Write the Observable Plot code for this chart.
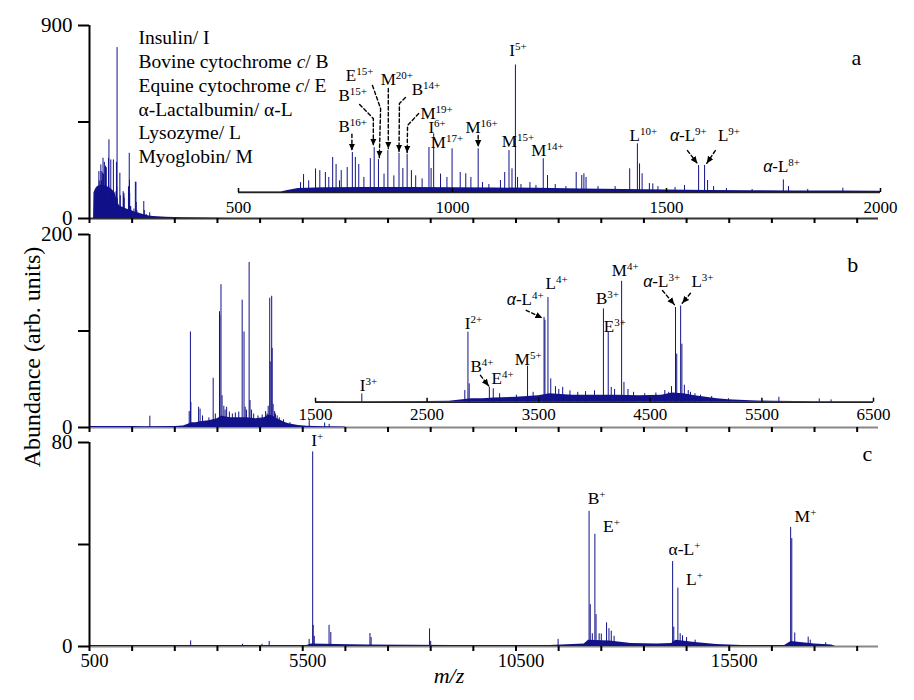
<!DOCTYPE html>
<html><head><meta charset="utf-8">
<script src="https://cdn.jsdelivr.net/npm/d3@7"></script>
<script src="https://cdn.jsdelivr.net/npm/@observablehq/plot@0.6"></script>
<style>
html,body{margin:0;padding:0;background:#fff;}
#chart{position:relative;width:914px;height:700px;background:#fff;font-family:"Liberation Serif","Times New Roman",serif;color:#000;overflow:hidden;}
#chart svg{position:absolute;left:0;top:0;}
.lab{position:absolute;white-space:nowrap;text-align:center;}
</style></head><body>
<div id="chart">
 <div class="lab" style="left:-168px;top:345px;width:400px;height:24px;line-height:24px;font-size:24px;transform:rotate(-90deg);">Abundance (arb. units)</div>
 <div class="lab" style="left:349px;top:665px;width:200px;height:22px;line-height:22px;font-size:22px;font-style:italic;">m/z</div>
</div>
<script>
// ---------------- data ----------------
const mainTicks = [500,1500,2500,3500,4500,5500,6500,7500,8500,9500,10500,11500,12500,13500,14500,15500,16500,17500,18500];
const xLabelsC = [500,5500,10500,15500];
const yTicksA = [0,450,900], yLabelsA = [0,900];
const yTicksB = [0,100,200], yLabelsB = [0,200];
const yTicksC = [0,40,80],   yLabelsC = [0,80];
const insetTicksA = [500,1000,1500,2000];
const insetTicksB = [1500,2500,3500,4500,5500,6500];

const legendLines = ["Insulin/ I","Bovine cytochrome _c_/ B","Equine cytochrome _c_/ E","α-Lactalbumin/ α-L","Lysozyme/ L","Myoglobin/ M"];

// panel a spectrum: [m/z, abundance]
const peaksA = [[645,62],[652,112],[664,73],[680,147],[690,137],[703,125],[711,94],[720,219],[728,175],[736,73],[740,137],[754,156],[766,250],[773,219],[781,175],[793,94],[808,212],[817,281],[827,206],[840,115],[849,262],[863,104],[875,244],[884,150],[894,237],[904,137],[914,104],[929,85],[945,281],[950,150],[956,367],[972,115],[987,94],[999,273],[1018,125],[1031,117],[1043,94],[1060,273],[1070,62],[1085,50],[1112,75],[1122,125],[1132,262],[1139,148],[1147,797],[1152,94],[1160,50],[1181,62],[1195,44],[1212,211],[1222,106],[1240,50],[1265,37],[1289,125],[1302,106],[1307,117],[1312,94],[1340,37],[1380,37],[1414,148],[1432,304],[1437,179],[1443,117],[1460,56],[1468,54],[1480,37],[1520,31],[1542,44],[1575,169],[1589,169],[1596,75],[1610,37],[1640,25],[1700,19],[1773,79],[1785,37],[1830,19],[1912,27]];
const envelopeA = [[595,0],[605,120],[650,140],[700,150],[800,155],[900,150],[1000,140],[1100,120],[1150,80],[1200,60],[1300,50],[1400,42],[1500,35],[1600,28],[1700,22],[1800,16],[1900,12],[2000,9],[2300,6],[2700,4],[3100,2.5],[3500,1.5],[3900,0]];
const baselineA = [[500,3],[600,3],[615,12],[640,25],[700,30],[800,32],[900,32],[1000,30],[1100,28],[1200,26],[1300,22],[1400,19],[1500,16],[1600,13],[1700,11],[1800,10],[1900,9],[2000,8]];
const labelsA = [
 {t:"B^16+",mz:767,v:377},{t:"B^15+",mz:767,v:575},{t:"E^15+",mz:783,v:700},{t:"M^20+",mz:870,v:669},
 {t:"B^14+",mz:938,v:612},{t:"M^19+",mz:963,v:462},{t:"I^6+",mz:964,v:375},{t:"M^17+",mz:987,v:281},
 {t:"M^16+",mz:1068,v:369},{t:"I^5+",mz:1153,v:856},{t:"M^15+",mz:1153,v:283},{t:"M^14+",mz:1222,v:231},
 {t:"L^10+",mz:1446,v:325},{t:"*α-L^9+",mz:1551,v:325},{t:"L^9+",mz:1646,v:325},{t:"*α-L^8+",mz:1769,v:127}];
const arrowsA = [
 ["B16",[[765,365],[765,262]]],["B15",[[783,550],[815,462],[815,293]]],["E15",[[813,669],[832,525],[829,218]]],
 ["M20",[[850,650],[850,274]]],["B14",[[890,594],[876,556],[875,256]]],["M19",[[921,494],[895,419],[894,249]]],
 ["M16",[[1060,356],[1060,285]]],["aL9",[[1549,262],[1572,182]]],["L9",[[1614,262],[1594,182]]]];

// panel b spectrum
const peaksB = [[1915,11.7],[2838,16.5],[2866,99],[2877,26],[3058,21],[3093,19],[3150,12],[3300,10],[3400,51],[3450,14],[3548,120],[3556,116],[3583,148],[3608,33],[3650,22],[3680,18],[3715,21],[3780,16],[3850,14],[3920,15],[4000,16],[4080,132],[4123,99],[4150,21],[4180,18],[4243,171],[4264,28],[4300,18],[4350,14],[4450,12],[4550,13],[4630,16.5],[4665,14],[4690,22],[4726,134],[4737,68],[4772,136],[4783,82],[4805,24],[4840,16.5],[4860,14],[4900,12],[4950,10],[5050,8],[5200,5],[5652,7],[6014,4.7],[6120,3.3]];
const baselineB = [[500,1],[1500,1],[1800,0.8],[2500,1],[2700,1.5],[2800,3],[2900,5],[3000,5],[3100,6],[3300,7],[3500,9],[3600,12],[3700,11],[3800,10],[4000,10],[4200,10],[4400,9],[4600,10],[4700,13],[4800,12],[4900,9],[5000,7],[5100,5],[5200,3.5],[5400,2],[5600,1.2],[6000,0.8],[6500,0.6]];
const labelsB = [
 {t:"I^3+",mz:1975,v:16.5},{t:"I^2+",mz:2916,v:104},{t:"B^4+",mz:2992,v:42.4},{t:"E^4+",mz:3176,v:26.4},
 {t:"M^5+",mz:3406,v:52},{t:"*α-L^4+",mz:3379,v:137},{t:"L^4+",mz:3661,v:160},{t:"B^3+",mz:4117,v:139},
 {t:"E^3+",mz:4182,v:99},{t:"M^4+",mz:4275,v:178},{t:"*α-L^3+",mz:4602,v:163.6},{t:"L^3+",mz:4968,v:163.6}];
const arrowsB = [
 ["B4",[[2978,38],[3052,23]]],["aL4",[[3388,130],[3533,119]]],["aL3",[[4609,158],[4716,138]]],["L3",[[4860,154],[4786,140]]]];

// panel c spectrum
const peaksC = [[2872,2.2],[4087,0.9],[4545,0.9],[4713,2],[5650,2.8],[5733,76.3],[5745,8.3],[5770,4],[6117,8.3],[6158,5.5],[7076,5.1],[7103,3.5],[8473,6.9],[8500,2],[11488,2.8],[12214,53],[12241,16.4],[12290,5],[12350,44],[12377,12.5],[12450,5],[12500,4.9],[12624,9.3],[12680,7],[12734,6],[12800,4],[14173,33.3],[14200,7.6],[14296,22.9],[14350,5],[14405,4.2],[14500,3.5],[14700,2.5],[16940,46.7],[16967,42.3],[17036,5.3],[17351,3.7],[17400,2.5],[17762,1.5]];
const baselineC = [[500,0.4],[5600,0.4],[5700,1],[6300,0.8],[7000,0.6],[9000,0.4],[11300,0.4],[12100,1],[12200,2.5],[12700,2.2],[13200,1.2],[13800,1],[14150,1.2],[14250,2.5],[14700,1.6],[15200,0.8],[15800,0.4],[16800,0.4],[16950,2],[17500,1],[17900,0.6],[18000,0]];
const labelsC = [{t:"I^+",mz:5839,v:78.6},{t:"B^+",mz:12390,v:55.9},{t:"E^+",mz:12739,v:44.8},{t:"α-L^+",mz:14451,v:35.7},{t:"L^+",mz:14686,v:24.3},{t:"M^+",mz:17288,v:49}];

const panelLetters = {a:{mz:18483,v:718}, b:{mz:18399,v:161}, c:{mz:18741,v:72.8}};

// ---------------- drawing ----------------
const W = 914, H = 700, NAVY = "#12128a";
const X = d => d[0], V = d => d[1];
const flat = arr => arr.flatMap(([id, pts]) => pts.map(([mz, v]) => ({id, mz, v})));
const chart = document.getElementById("chart");
const ns = "http://www.w3.org/2000/svg";

function rich(svg) {
  svg.querySelectorAll("text").forEach(t => {
    const s = t.textContent;
    if (!/[\^_*]/.test(s)) return;
    const parts = s.split(/(\*α|_[^_]+_|\^.*$)/).filter(p => p);
    t.textContent = "";
    for (const p of parts) {
      const ts = document.createElementNS(ns, "tspan");
      if (p === "*α") { ts.textContent = "α"; ts.setAttribute("font-style","italic"); ts.setAttribute("font-family","Liberation Sans"); ts.setAttribute("font-size","16px"); }
      else if (p[0] === "_") { ts.textContent = p.slice(1,-1); ts.setAttribute("font-style","italic"); }
      else if (p[0] === "^") { ts.textContent = p.slice(1); ts.setAttribute("font-size","11px"); ts.setAttribute("dy","-6"); }
      else ts.textContent = p;
      t.appendChild(ts);
    }
  });
}
let mid = 0;
function finish(svg) {
  const id = "tri" + (mid++);
  const defs = document.createElementNS(ns, "defs");
  const m = document.createElementNS(ns, "marker");
  m.setAttribute("id", id); m.setAttribute("viewBox","0 0 10 10"); m.setAttribute("refX","10"); m.setAttribute("refY","5");
  m.setAttribute("markerUnits","userSpaceOnUse"); m.setAttribute("markerWidth","7"); m.setAttribute("markerHeight","7"); m.setAttribute("orient","auto");
  const p = document.createElementNS(ns, "path"); p.setAttribute("d","M0,0.5L10,5L0,9.5Z"); p.setAttribute("fill","#000"); p.setAttribute("stroke","none");
  m.appendChild(p); defs.appendChild(m); svg.insertBefore(defs, svg.firstChild);
  svg.querySelectorAll('g[stroke-dasharray] path, path[stroke-dasharray]').forEach(q => q.setAttribute("marker-end", `url(#${id})`));
  rich(svg);
  chart.appendChild(svg);
}
function mk(opts) {
  return Plot.plot({width: W, height: H,
    style: {fontFamily: "Liberation Serif", fontSize: "19px", color: "#000", background: "transparent", overflow: "visible"},
    ...opts});
}
const mainX = {domain: [500, 19000], axis: null};
const yAxis = (ticks, labels) => Plot.axisY({ticks, tickSize: 11, tickPadding: 6, strokeWidth: 2, fontSize: 21, label: null,
  tickFormat: d => labels.includes(d) ? String(d) : ""});
const letter = (k) => Plot.text([k], {x: panelLetters[k].mz, y: panelLetters[k].v, text: d => d, lineAnchor: "bottom", fontSize: 22});
const arrows = (data) => Plot.line(flat(data), {x: "mz", y: "v", z: "id", stroke: "#000", strokeWidth: 1.4, strokeDasharray: "3.5,2.5"});

// Panel a main
finish(mk({
  marginLeft: 89, marginRight: W - 878, marginTop: 25, marginBottom: H - 218,
  x: mainX, y: {domain: [0, 900], axis: null},
  marks: [
    Plot.ruleY([0], {stroke: "#333", strokeWidth: 2}),
    Plot.axisX({ticks: mainTicks, tickSize: 5, strokeWidth: 2, tickFormat: () => "", label: null}),
    Plot.areaY(envelopeA, {x: X, y: V, fill: NAVY}),
    Plot.ruleX(peaksA, {x: X, y1: 0, y2: V, stroke: NAVY, strokeWidth: 1}),
    Plot.ruleX([500], {y1: 0, y2: 900, stroke: "#000", strokeWidth: 2}),
    yAxis(yTicksA, yLabelsA),
    Plot.text(legendLines, {x: 1649, y: (d, i) => 815 - i * 111.6, text: d => d, textAnchor: "start", lineAnchor: "bottom", fontSize: 19.5}),
    letter("a")
  ]
}));
// Panel a inset
finish(mk({
  marginLeft: 238, marginRight: W - 880, marginTop: 48, marginBottom: H - 192,
  x: {domain: [500, 2000], axis: null}, y: {domain: [0, 900], axis: null},
  marks: [
    Plot.areaY(baselineA, {x: X, y: V, fill: NAVY}),
    Plot.ruleX(peaksA, {x: X, y1: 0, y2: V, stroke: NAVY, strokeWidth: 1}),
    Plot.ruleY([0], {stroke: "#222", strokeWidth: 1.5}),
    Plot.ruleX(insetTicksA, {x: d => d, y1: 0, y2: 25, stroke: "#000", strokeWidth: 1.5}),
    Plot.axisX({ticks: insetTicksA, tickSize: 0, tickPadding: 8, fontSize: 17, tickFormat: String, label: null}),
    arrows(arrowsA),
    Plot.text(labelsA, {x: "mz", y: "v", text: "t", lineAnchor: "bottom", fontSize: 17})
  ]
}));
// Panel b main
finish(mk({
  marginLeft: 89, marginRight: W - 878, marginTop: 234, marginBottom: H - 427,
  x: mainX, y: {domain: [0, 200], axis: null},
  marks: [
    Plot.ruleY([0], {stroke: "#888", strokeWidth: 2}),
    Plot.axisX({ticks: mainTicks, tickSize: 5, strokeWidth: 2, tickFormat: () => "", label: null}),
    Plot.areaY(baselineB, {x: X, y: V, fill: NAVY}),
    Plot.ruleX(peaksB, {x: X, y1: 0, y2: V, stroke: NAVY, strokeWidth: 1}),
    Plot.ruleX([500], {y1: 0, y2: 200, stroke: "#000", strokeWidth: 2}),
    yAxis(yTicksB, yLabelsB),
    letter("b")
  ]
}));
// Panel b inset
finish(mk({
  marginLeft: 315, marginRight: W - 873, marginTop: 260.3, marginBottom: H - 401.7,
  x: {domain: [1500, 6500], axis: null}, y: {domain: [0, 200], axis: null},
  marks: [
    Plot.areaY(baselineB.filter(d => d[0] >= 1500), {x: X, y: V, fill: NAVY}),
    Plot.ruleX(peaksB.filter(d => d[0] >= 1500), {x: X, y1: 0, y2: V, stroke: NAVY, strokeWidth: 1}),
    Plot.ruleY([0], {stroke: "#222", strokeWidth: 1.5}),
    Plot.ruleX(insetTicksB, {x: d => d, y1: 0, y2: 5.7, stroke: "#000", strokeWidth: 1.5}),
    Plot.axisX({ticks: insetTicksB, tickSize: 0, tickPadding: 6, fontSize: 17, tickFormat: String, label: null}),
    arrows(arrowsB),
    Plot.text(labelsB, {x: "mz", y: "v", text: "t", lineAnchor: "bottom", fontSize: 17})
  ]
}));
// Panel c
finish(mk({
  marginLeft: 89, marginRight: W - 878, marginTop: 442, marginBottom: H - 646,
  x: mainX, y: {domain: [0, 80], axis: null},
  marks: [
    Plot.ruleY([0], {stroke: "#888", strokeWidth: 2}),
    Plot.axisX({ticks: mainTicks, tickSize: 5, strokeWidth: 2, tickFormat: () => "", label: null}),
    Plot.axisX({ticks: xLabelsC, tickSize: 0, tickPadding: 7.5, dx: 5, fontSize: 18.7, label: null, tickFormat: String}),
    Plot.areaY(baselineC, {x: X, y: V, fill: NAVY}),
    Plot.ruleX(peaksC, {x: X, y1: 0, y2: V, stroke: NAVY, strokeWidth: 1}),
    Plot.ruleX([500], {y1: 0, y2: 80, stroke: "#000", strokeWidth: 2}),
    yAxis(yTicksC, yLabelsC),
    Plot.text(labelsC, {x: "mz", y: "v", text: "t", lineAnchor: "bottom", fontSize: 17.5}),
    letter("c")
  ]
}));
</script>
</body></html>
